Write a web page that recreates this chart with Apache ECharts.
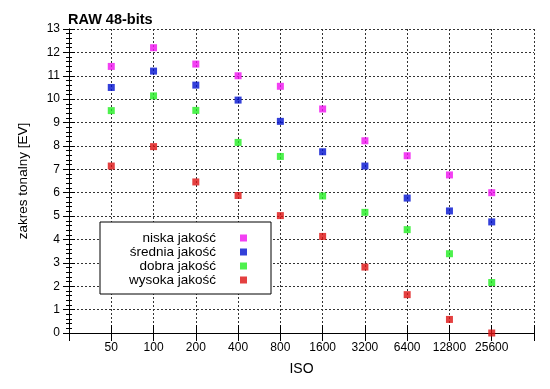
<!DOCTYPE html>
<html>
<head>
<meta charset="utf-8">
<script src="https://cdn.jsdelivr.net/npm/echarts@6/dist/echarts.min.js"></script>
<style>html,body{margin:0;padding:0;background:#fff;}#c{width:550px;height:389px;}</style>
</head>
<body>
<div id="c"></div>
<script>
var isoLabels = ['50','100','200','400','800','1600','3200','6400','12800','25600'];
var niska   = [11.4, 12.2, 11.5, 11.0, 10.55, 9.58, 8.22, 7.58, 6.76, 6.0];
var srednia = [10.5, 11.2, 10.6, 9.96, 9.05, 7.75, 7.14, 5.77, 5.22, 4.75];
var dobra   = [9.51, 10.14, 9.52, 8.15, 7.55, 5.86, 5.16, 4.42, 3.39, 2.16];
var wysoka  = [7.14, 7.97, 6.46, 5.88, 5.02, 4.13, 2.82, 1.64, 0.58, 0.0];

function pts(arr){ return arr.map(function(v,i){ return [i+1, v]; }); }

var font = 'Liberation Sans, Arial, sans-serif';
var grid = {type:[2,2], color:'#333', width:1};

var xBase = {
  type:'value', min:0, max:11, interval:1,
  axisLine:{show:true, lineStyle:{color:'#000', width:1}},
  axisTick:{show:true, inside:true, length:8, lineStyle:{color:'#000'}},
  splitLine:{show:false}
};
var yBase = {
  type:'value', min:0, max:13, interval:1,
  axisLine:{show:true, lineStyle:{color:'#000', width:1}},
  axisTick:{show:true, inside:true, length:6, lineStyle:{color:'#000'}},
  minorTick:{show:true, splitNumber:5, length:3, lineStyle:{color:'#000'}},
  splitLine:{show:false}
};

var option = {
  backgroundColor:'#fff',
  animation:false,
  title:{text:'RAW 48-bits', left:68, top:12, padding:[0,0,0,0], textStyle:{fontFamily:font, fontSize:14.5, fontWeight:'bold', color:'#000'}},
  grid:{left:69, right:16, top:29, bottom:56},
  legend:{
    orient:'vertical', left:100, top:222, align:'right',
    backgroundColor:'#fff', borderColor:'#000', borderWidth:1, borderRadius:0,
    padding:[9,24,7,27], itemGap:0,
    icon:'rect', itemWidth:7, itemHeight:7,
    textStyle:{fontFamily:font, fontSize:13.5, color:'#000', width:89, align:'right', lineHeight:14, padding:[0,19,0,0]},
    data:['niska jakość','średnia jakość','dobra jakość','wysoka jakość']
  },
  xAxis:[
    Object.assign({}, xBase, {
      position:'bottom',
      name:'ISO', nameLocation:'middle', nameGap:29,
      nameTextStyle:{fontFamily:font, fontSize:14, color:'#000'},
      axisLabel:{fontFamily:font, fontSize:12, color:'#000', margin:9,
        formatter:function(v){ return (v>=1 && v<=10) ? isoLabels[v-1] : ''; }},
      splitLine:{show:true, lineStyle:grid}
    }),
    Object.assign({}, xBase, {position:'top', axisLabel:{show:false}})
  ],
  yAxis:[
    Object.assign({}, yBase, {
      position:'left',
      name:'zakres tonalny [EV]', nameLocation:'middle', nameGap:39,
      nameTextStyle:{fontFamily:font, fontSize:13.5, color:'#000'},
      axisLabel:{fontFamily:font, fontSize:12, color:'#000', margin:9},
      splitLine:{show:true, lineStyle:grid}
    }),
    Object.assign({}, yBase, {position:'right', axisLabel:{show:false}})
  ],
  series:[
    {name:'niska jakość', type:'scatter', symbol:'rect', symbolSize:7, itemStyle:{color:'#f010f0'}, data:pts(niska)},
    {name:'średnia jakość', type:'scatter', symbol:'rect', symbolSize:7, itemStyle:{color:'#0010d0'}, data:pts(srednia)},
    {name:'dobra jakość', type:'scatter', symbol:'rect', symbolSize:7, itemStyle:{color:'#20ee20'}, data:pts(dobra)},
    {name:'wysoka jakość', type:'scatter', symbol:'rect', symbolSize:7, itemStyle:{color:'#dd1010'}, data:pts(wysoka)}
  ]
};
echarts.init(document.getElementById('c')).setOption(option);
</script>
</body>
</html>
